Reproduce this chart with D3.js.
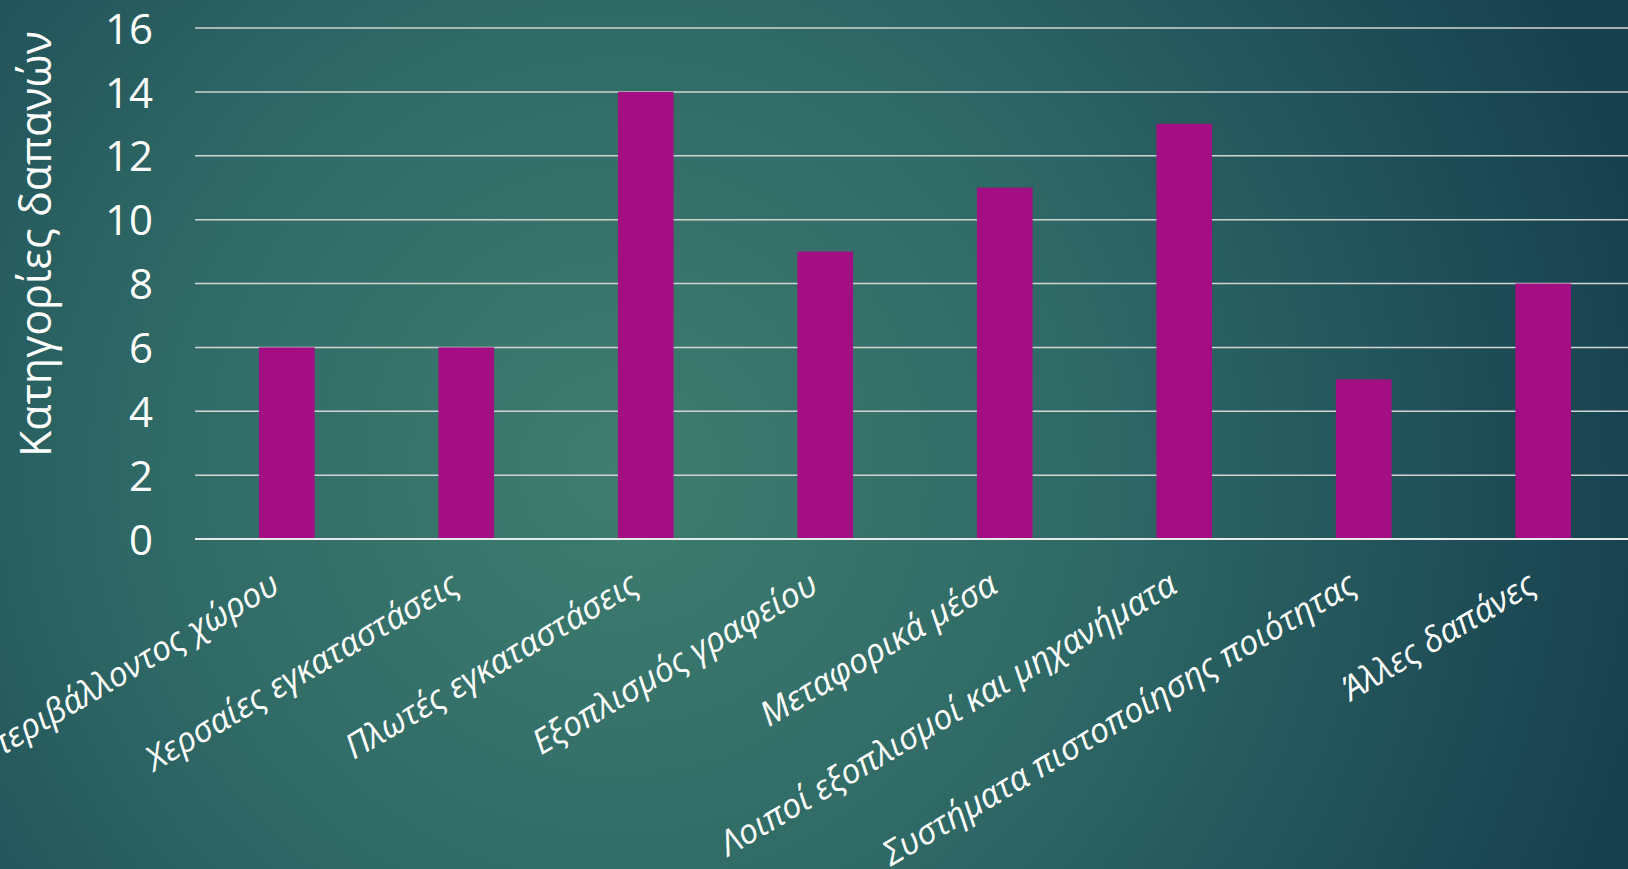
<!DOCTYPE html>
<html><head><meta charset="utf-8">
<script src="https://cdn.jsdelivr.net/npm/d3@7"></script>
<style>
html,body{margin:0;padding:0;overflow:hidden;background:#2a605f;}
text{font-family:"Open Sans","Noto Sans",sans-serif;fill:#ffffff;}
</style></head>
<body>
<svg id="chart" width="1628" height="869"></svg>
<script>
const categories = ["Διαμόρφωση περιβάλλοντος χώρου","Χερσαίες εγκαταστάσεις","Πλωτές εγκαταστάσεις","Εξοπλισμός γραφείου","Μεταφορικά μέσα","Λοιποί εξοπλισμοί και μηχανήματα","Συστήματα πιστοποίησης ποιότητας","Άλλες δαπάνες"];
const values = [6, 6, 14, 9, 11, 13, 5, 8];
const yTicks = [0, 2, 4, 6, 8, 10, 12, 14, 16];
const yTitle = "Κατηγορίες δαπανών";

const W = 1628, H = 869;
const svg = d3.select("#chart");
const defs = svg.append("defs");
const rg = defs.append("radialGradient").attr("id","bg")
  .attr("gradientUnits","userSpaceOnUse").attr("cx",620).attr("cy",470).attr("r",1050);
rg.append("stop").attr("offset","0").attr("stop-color","#3e7d6f");
rg.append("stop").attr("offset","0.45").attr("stop-color","#2f6966");
rg.append("stop").attr("offset","1").attr("stop-color","#17404f");
svg.append("rect").attr("width",W).attr("height",H).attr("fill","url(#bg)");

const x = d3.scaleBand().domain(categories).range([197, 1633]).paddingInner(0.69).paddingOuter(0.345);
const y = d3.scaleLinear().domain([0, 16]).range([539, 28]);

// gridlines
const grid = svg.append("g");
grid.selectAll("line").data(yTicks.filter(d=>d>0)).join("line")
  .attr("x1",195).attr("x2",W).attr("y1",d=>y(d)).attr("y2",d=>y(d))
  .attr("stroke","#cfd5d3").attr("stroke-width",1.5);

// bars
svg.append("g").selectAll("rect").data(values).join("rect")
  .attr("x",(d,i)=>x(categories[i])).attr("width",x.bandwidth())
  .attr("y",d=>y(d)).attr("height",d=>y(0)-y(d)).attr("fill","#a30f82");

// baseline
svg.append("line").attr("x1",195).attr("x2",W).attr("y1",y(0)).attr("y2",y(0))
  .attr("stroke","#e6eaea").attr("stroke-width",2.2);

// y axis
const yAxis = d3.axisLeft(y).tickValues(yTicks).tickSize(0).tickPadding(0);
const yg = svg.append("g").attr("transform","translate(153,0)").call(yAxis);
yg.select(".domain").remove();
yg.selectAll("text").attr("font-size",42).attr("fill","#fff").attr("font-family","Open Sans, Noto Sans, sans-serif").attr("dy","0.36em");

// x axis
const xAxis = d3.axisBottom(x).tickSize(0).tickPadding(0);
const xg = svg.append("g").attr("transform",`translate(0,${y(0)})`).call(xAxis);
xg.select(".domain").remove();
xg.selectAll("text")
  .attr("font-size",34).attr("font-style","italic").attr("fill","#fff")
  .attr("font-family","Open Sans, Noto Sans, sans-serif")
  .attr("text-anchor","end").attr("dy",null).attr("y",0)
  .attr("transform","translate(-5,52) rotate(-30.5)");

// y title
svg.append("text").attr("transform",`translate(51,244) rotate(-90)`)
  .attr("text-anchor","middle").attr("font-size",43).text(yTitle);
</script>
</body></html>
